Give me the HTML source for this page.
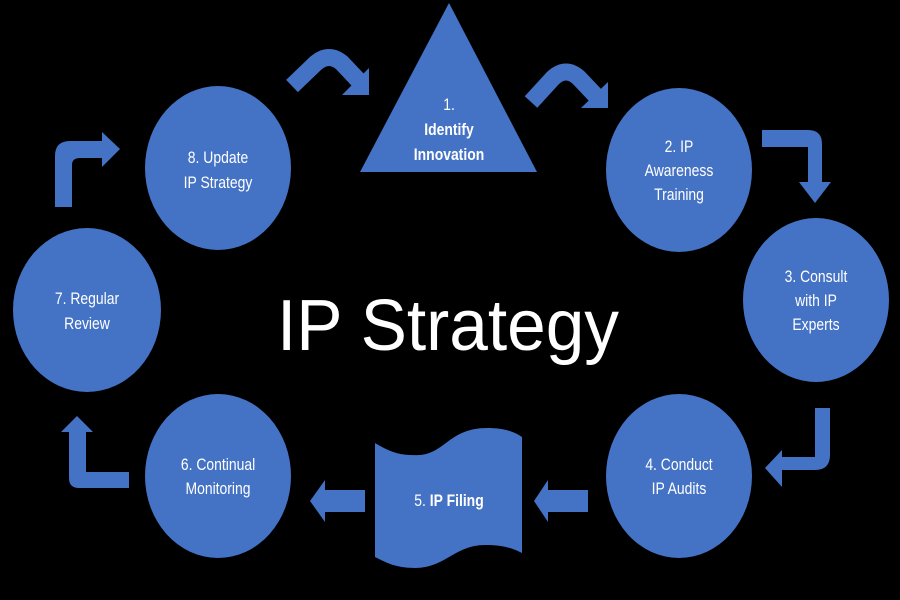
<!DOCTYPE html>
<html><head><meta charset="utf-8"><style>
html,body{margin:0;padding:0;background:#000;}
svg{display:block}
text{font-family:"Liberation Sans",sans-serif;fill:#fff;}
</style></head><body>
<svg width="900" height="600" viewBox="0 0 900 600">
<rect width="900" height="600" fill="#000"/>
<g fill="#4472C4">
<ellipse cx="218" cy="168" rx="73" ry="82"/>
<ellipse cx="679" cy="170" rx="73" ry="82"/>
<ellipse cx="816" cy="300" rx="73" ry="82"/>
<ellipse cx="87" cy="310" rx="74" ry="82"/>
<ellipse cx="218" cy="476" rx="73" ry="82"/>
<ellipse cx="679" cy="476" rx="73" ry="82"/>
<polygon points="449,3 360,172 537,172"/>
<path d="M375,443 C390,452 400,456 420,455 C445,453 450,428 487,428 C505,428 515,432 522,437 L522,553 C510,547 500,545 485,545 C455,545 445,568 415,568 C395,568 385,562 375,557 Z"/>
<polygon points="588,490 548,490 548,480 534,501 548,522 548,512 588,512"/>
<polygon points="365,490 325,490 325,480 310,501 325,522 325,512 365,512"/>
<polygon points="369,68 369,95 342,95"/>
<polygon points="608,82 608,108 581,108"/>
<path d="M762,130 L808,130 Q822,130 822,144 L822,182 L831,182 L815,203 L799,182 L808,182 L808,147 L762,147 Z"/>
<path d="M815,408 L830,408 L830,455 Q830,470 815,470 L782,470 L782,487 L765,468 L782,450 L782,457 L815,457 Z"/>
<path d="M129,472 L86,472 L86,432 L93,432 L77,416 L61,432 L69,432 L69,478 Q69,488 79,488 L129,488 Z"/>
<path d="M55,207 L72,207 L72,165 Q72,158 80,158 L102,158 L102,167 L120,149 L102,132 L102,141 L70,141 Q55,141 55,156 Z"/>
</g>
<g fill="none" stroke="#4472C4" stroke-width="17">
<path d="M292,86 L316,63 Q329,52 342,63 L358,80"/>
<path d="M531,102 L553,78 Q566,66 579,78 L596,96"/>
</g>
<g font-size="17" text-anchor="middle">
<text transform="translate(449,110) scale(0.82,1)">1.</text>
<text transform="translate(449,135) scale(0.82,1)" font-weight="bold">Identify</text>
<text transform="translate(449,160) scale(0.82,1)" font-weight="bold">Innovation</text>
<text transform="translate(218,163) scale(0.82,1)">8. Update</text>
<text transform="translate(218,188) scale(0.82,1)">IP Strategy</text>
<text transform="translate(679,152) scale(0.82,1)">2. IP</text>
<text transform="translate(679,176) scale(0.82,1)">Awareness</text>
<text transform="translate(679,200) scale(0.82,1)">Training</text>
<text transform="translate(816,282) scale(0.82,1)">3. Consult</text>
<text transform="translate(816,306) scale(0.82,1)">with IP</text>
<text transform="translate(816,330) scale(0.82,1)">Experts</text>
<text transform="translate(87,304) scale(0.82,1)">7. Regular</text>
<text transform="translate(87,329) scale(0.82,1)">Review</text>
<text transform="translate(218,470) scale(0.82,1)">6. Continual</text>
<text transform="translate(218,494) scale(0.82,1)">Monitoring</text>
<text transform="translate(679,470) scale(0.82,1)">4. Conduct</text>
<text transform="translate(679,494) scale(0.82,1)">IP Audits</text>
<text transform="translate(449,506) scale(0.82,1)">5. <tspan font-weight="bold">IP Filing</tspan></text>
</g>
<text x="448" y="350" font-size="72" text-anchor="middle" textLength="342" lengthAdjust="spacingAndGlyphs">IP Strategy</text>
</svg>
</body></html>
